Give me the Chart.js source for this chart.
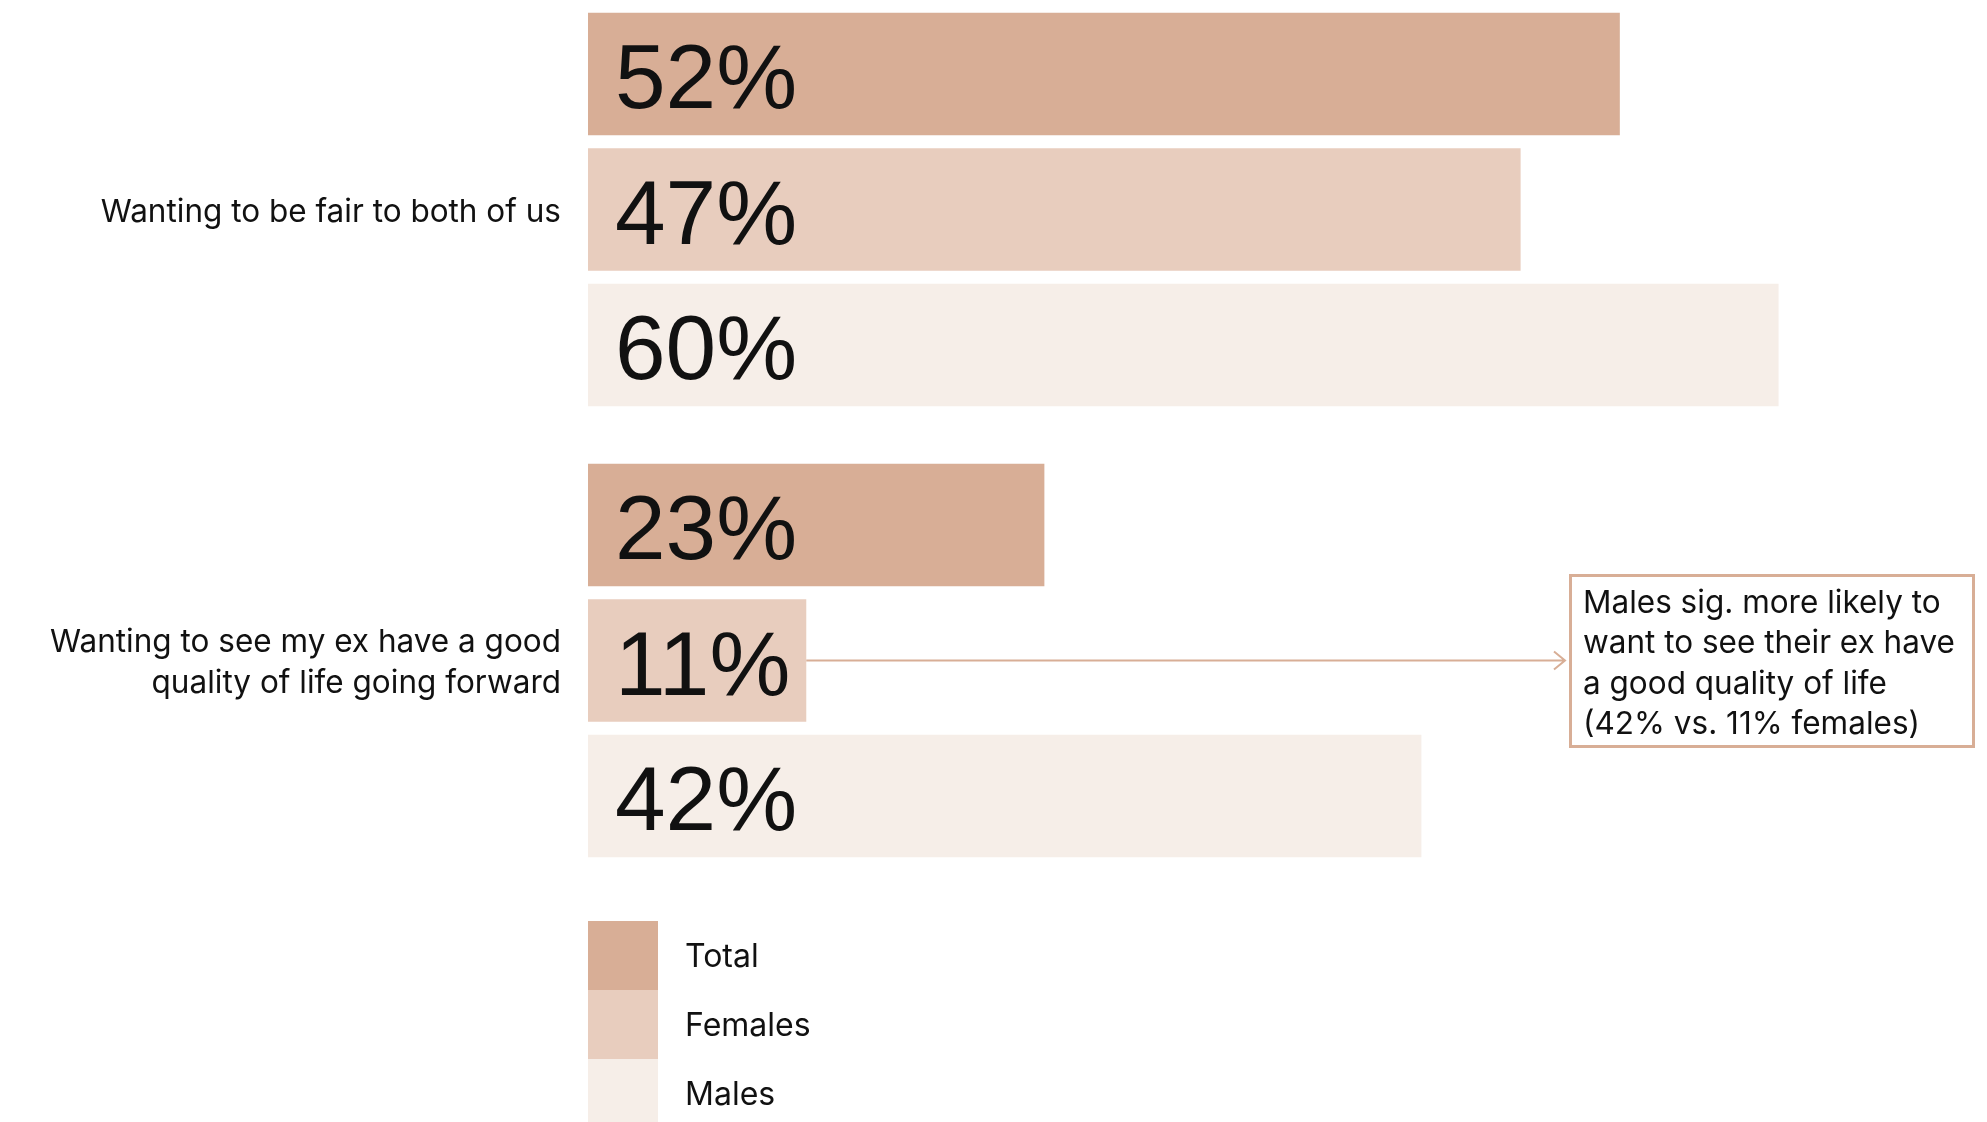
<!DOCTYPE html>
<html>
<head>
<meta charset="utf-8">
<script src="https://cdn.jsdelivr.net/npm/chart.js@4.4.1/dist/chart.umd.min.js"></script>
<style>
  html, body { margin: 0; padding: 0; background: #ffffff; overflow: hidden; }
  body { width: 1987px; height: 1122px; position: relative; }
  #wrap { position: absolute; left: 0; top: -16px; width: 1987px; height: 1138px; }
  #legend { position: absolute; left: 588px; top: 921px; font-family: Inter, "Liberation Sans", sans-serif; font-size: 32px; color: #111; }
  .li { position: relative; height: 69px; width: 400px; }
  .sw { position: absolute; left: 0; top: 0; width: 70px; height: 69px; }
  .lt { position: absolute; left: 97px; top: 0; line-height: 69px; }
  #note { position: absolute; left: 1569px; top: 574px; width: 406px; height: 174px; box-sizing: border-box;
          border: 3px solid #d8ae96; padding: 5px 6px 0 11px; font-family: Inter, "Liberation Sans", sans-serif;
          font-size: 31.5px; line-height: 40.3px; color: #111; white-space: nowrap; }
</style>
</head>
<body>
<div id="wrap"><canvas id="c" width="1987" height="1138"></canvas></div>
<div id="legend"></div>
<div id="note"></div>
<script>
const categories = [
  ['Wanting to be fair to both of us'],
  ['Wanting to see my ex have a good', 'quality of life going forward']
];
const seriesNames = ['Total', 'Females', 'Males'];
const totalValues = [52, 23];
const femaleValues = [47, 11];
const maleValues = [60, 42];
const seriesColors = ['#d8ae96', '#e8cdbe', '#f6eee8'];
const noteLines = ['Males sig. more likely to', 'want to see their ex have', 'a good quality of life', '(42% vs. 11% females)'];

const ARROW_TIP_X = 1565; // left edge of the note box

const valueLabels = {
  id: 'valueLabels',
  afterDatasetsDraw(chart) {
    const ctx = chart.ctx;
    ctx.save();
    ctx.fillStyle = '#111';
    ctx.font = '91px "Liberation Sans", Arial, sans-serif';
    ctx.textAlign = 'left';
    ctx.textBaseline = 'alphabetic';
    chart.data.datasets.forEach((ds, di) => {
      const meta = chart.getDatasetMeta(di);
      meta.data.forEach((bar, i) => {
        ctx.fillText(ds.data[i] + '%', bar.base + 27, bar.y + 34);
      });
    });
    ctx.restore();
  }
};

const noteArrow = {
  id: 'noteArrow',
  afterDraw(chart) {
    const bar = chart.getDatasetMeta(1).data[1];
    const ctx = chart.ctx;
    const y = bar.y;
    ctx.save();
    ctx.strokeStyle = '#d8ae96';
    ctx.lineWidth = 2;
    ctx.beginPath();
    ctx.moveTo(bar.x, y);
    ctx.lineTo(ARROW_TIP_X, y);
    ctx.moveTo(ARROW_TIP_X - 11, y - 9);
    ctx.lineTo(ARROW_TIP_X, y);
    ctx.lineTo(ARROW_TIP_X - 11, y + 9);
    ctx.stroke();
    ctx.restore();
  }
};

new Chart(document.getElementById('c'), {
  type: 'bar',
  data: {
    labels: categories,
    datasets: [
      { label: seriesNames[0], data: totalValues, backgroundColor: seriesColors[0] },
      { label: seriesNames[1], data: femaleValues, backgroundColor: seriesColors[1] },
      { label: seriesNames[2], data: maleValues, backgroundColor: seriesColors[2] }
    ]
  },
  options: {
    indexAxis: 'y',
    responsive: false,
    animation: false,
    devicePixelRatio: 1,
    categoryPercentage: 0.9013,
    barPercentage: 0.905,
    layout: { padding: { left: 0, right: 10, top: 0, bottom: 236 } },
    plugins: { legend: { display: false }, tooltip: { enabled: false } },
    scales: {
      x: { display: false, min: 0, max: 70 },
      y: {
        grid: { display: false, drawTicks: false },
        border: { display: false },
        ticks: {
          color: '#111',
          padding: 27,
          labelOffset: 3,
          font: { family: 'Inter, "Liberation Sans", sans-serif', size: 31.5, lineHeight: 1.3 }
        },
        afterFit(scale) { scale.width = 588; scale.paddingTop = 0; scale.paddingBottom = 0; }
      }
    }
  },
  plugins: [valueLabels, noteArrow]
});

const legend = document.getElementById('legend');
seriesNames.forEach((name, i) => {
  const row = document.createElement('div');
  row.className = 'li';
  const sw = document.createElement('div');
  sw.className = 'sw';
  sw.style.background = seriesColors[i];
  const t = document.createElement('div');
  t.className = 'lt';
  t.textContent = name;
  row.appendChild(sw); row.appendChild(t);
  legend.appendChild(row);
});
document.getElementById('note').innerHTML = noteLines.map(s => '<div>' + s + '</div>').join('');
</script>
</body>
</html>
